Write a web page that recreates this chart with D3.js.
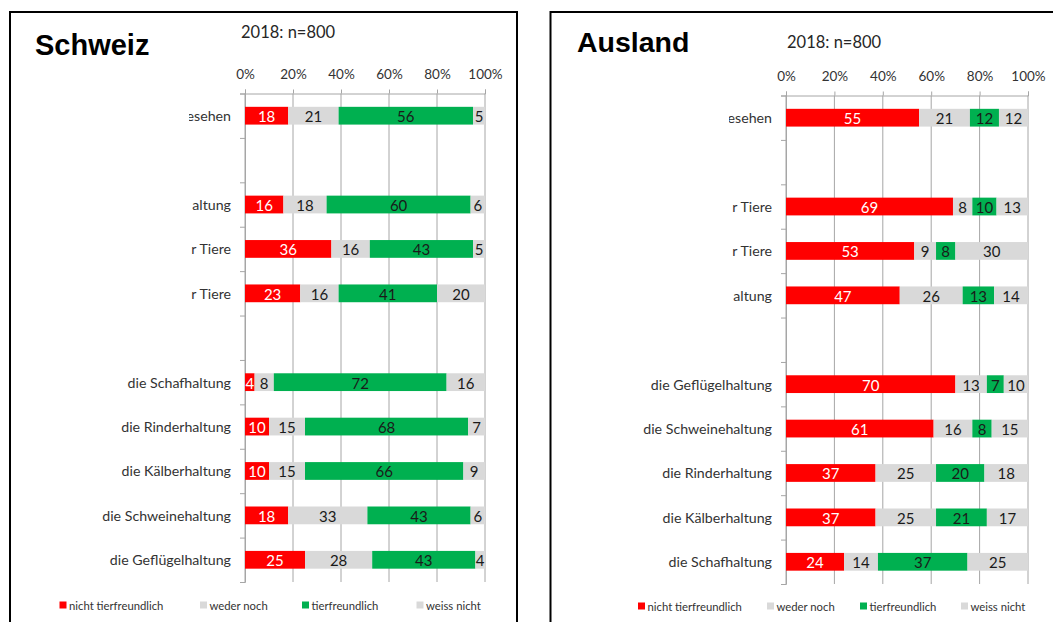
<!DOCTYPE html>
<html>
<head>
<meta charset="utf-8">
<script src="https://cdn.jsdelivr.net/npm/d3@7"></script>
<style>
  body { margin: 0; background: #fff; }
  svg { display: block; }
</style>
</head>
<body>
<svg id="chart" width="1053" height="622"></svg>
<script>
// legend / series
const seriesNames = ['nicht tierfreundlich', 'weder noch', 'tierfreundlich', 'weiss nicht'];
const tickValues = [0, 20, 40, 60, 80, 100];
const sampleText = '2018: n=800';

// Schweiz
const chTitle = 'Schweiz';
const chCats = ['esehen', '', 'altung', 'r Tiere', 'r Tiere', '',
  'die Schafhaltung', 'die Rinderhaltung', 'die Kälberhaltung', 'die Schweinehaltung', 'die Geflügelhaltung'];
const chNicht = [18, null, 16, 36, 23, null, 4, 10, 10, 18, 25];
const chWeder = [21, null, 18, 16, 16, null, 8, 15, 15, 33, 28];
const chTier  = [56, null, 60, 43, 41, null, 72, 68, 66, 43, 43];
const chWeiss = [5, null, 6, 5, 20, null, 16, 7, 9, 6, 4];

// Ausland
const auTitle = 'Ausland';
const auCats = ['esehen', '', 'r Tiere', 'r Tiere', 'altung', '',
  'die Geflügelhaltung', 'die Schweinehaltung', 'die Rinderhaltung', 'die Kälberhaltung', 'die Schafhaltung'];
const auNicht = [55, null, 69, 53, 47, null, 70, 61, 37, 37, 24];
const auWeder = [21, null, 8, 9, 26, null, 13, 16, 25, 25, 14];
const auTier  = [12, null, 10, 8, 13, null, 7, 8, 20, 21, 37];
const auWeiss = [12, null, 13, 30, 14, null, 10, 15, 18, 17, 25];

const colors = ['#FF0000', '#D9D9D9', '#00B050', '#D9D9D9'];
const labelColors = ['#ffffff', '#1a1a1a', '#1a1a1a', '#1a1a1a'];
const FONT = 'Lato, Carlito, Calibri, sans-serif';

const svg = d3.select('#chart');

class Panel {
  constructor(opts) {
    this.o = opts;
    this.g = svg.append('g');
    this.x = d3.scaleLinear().domain([0, 100]).range([opts.x0, opts.x1]);
    this.idx = d3.range(opts.cats.length);
    this.y = d3.scaleBand().domain(this.idx).range([opts.top, opts.bottom])
        .paddingInner(0.6).paddingOuter(0.3);
    this.yEdge = d3.scaleLinear().domain([0, opts.cats.length]).range([opts.top, opts.bottom]);
  }

  draw() {
    this.drawFrame();
    this.drawTitle();
    this.drawGrid();
    this.drawAxes();
    this.drawBars();
    this.drawLabels();
    this.drawLegend();
  }

  drawFrame() {
    var o = this.o;
    this.g.append('rect')
        .attr('x', o.frameX).attr('y', 12)
        .attr('width', o.frameW).attr('height', 700)
        .attr('fill', 'none')
        .attr('stroke', '#000')
        .attr('stroke-width', 2);
  }

  drawTitle() {
    var o = this.o;
    this.g.append('text')
        .attr('x', o.titleX).attr('y', o.titleY)
        .attr('font-family', 'Liberation Sans, Arial, sans-serif')
        .attr('font-weight', 'bold')
        .attr('font-size', o.titleSize)
        .attr('fill', '#000')
        .text(o.title);
    this.g.append('text')
        .attr('x', o.subX).attr('y', o.subY)
        .attr('font-family', FONT)
        .attr('font-size', 16.5)
        .attr('fill', '#262626')
        .text(sampleText);
  }

  drawGrid() {
    var o = this.o;
    this.g.append('g')
        .selectAll('line')
        .data(tickValues)
        .join('line')
        .attr('x1', d => this.x(d)).attr('x2', d => this.x(d))
        .attr('y1', o.top).attr('y2', o.bottom)
        .attr('stroke', '#A6A6A6')
        .attr('stroke-width', 1);
  }

  drawAxes() {
    var o = this.o;
    var top = this.g.append('g')
        .attr('transform', 'translate(0,' + o.top + ')')
        .call(d3.axisTop(this.x).tickValues(tickValues)
            .tickFormat(d => d + '%').tickSize(4).tickPadding(11));
    top.selectAll('path, line').attr('stroke', '#A6A6A6');
    top.selectAll('text')
        .attr('font-family', FONT)
        .attr('font-size', 13.5)
        .attr('fill', '#333');

    var left = this.g.append('g')
        .attr('transform', 'translate(' + o.x0 + ',0)')
        .call(d3.axisLeft(this.yEdge).tickValues(d3.range(o.cats.length + 1))
            .tickFormat('').tickSize(5));
    left.selectAll('path, line').attr('stroke', '#A6A6A6');
  }

  rows() {
    var o = this.o;
    return this.idx.filter(i => o.cats[i] !== '').map(i => ({
      i: i, v0: o.nicht[i], v1: o.weder[i], v2: o.tier[i], v3: o.weiss[i]
    }));
  }

  drawBars() {
    var stack = d3.stack().keys(['v0', 'v1', 'v2', 'v3']);
    var layers = stack(this.rows());
    var layerG = this.g.append('g').selectAll('g')
        .data(layers)
        .join('g');

    layerG.selectAll('rect')
        .data((layer, k) => layer.map(d => ({k: k, d: d})))
        .join('rect')
        .attr('x', e => this.x(e.d[0]))
        .attr('y', e => this.y(e.d.data.i))
        .attr('width', e => this.x(e.d[1]) - this.x(e.d[0]))
        .attr('height', this.y.bandwidth())
        .attr('fill', e => colors[e.k]);

    layerG.selectAll('text')
        .data((layer, k) => layer.map(d => ({k: k, d: d})))
        .join('text')
        .attr('x', e => (this.x(e.d[0]) + this.x(e.d[1])) / 2)
        .attr('y', e => this.y(e.d.data.i) + this.y.bandwidth() / 2 + 0.5)
        .attr('text-anchor', 'middle')
        .attr('dominant-baseline', 'central')
        .attr('font-family', FONT)
        .attr('font-size', 15)
        .attr('fill', e => labelColors[e.k])
        .text(e => e.d[1] - e.d[0]);
  }

  drawLabels() {
    var o = this.o;
    var clipId = 'clip-' + o.title;
    // the upper labels are cut off on the left, the lower ones are not
    var cut = this.yEdge(6);
    var clip = this.g.append('clipPath').attr('id', clipId);
    clip.append('rect')
        .attr('x', o.clipX).attr('y', 0)
        .attr('width', o.x0 - o.clipX).attr('height', cut);
    clip.append('rect')
        .attr('x', o.frameX).attr('y', cut)
        .attr('width', o.x0 - o.frameX).attr('height', 622 - cut);

    this.g.append('g')
        .attr('clip-path', 'url(#' + clipId + ')')
        .selectAll('text')
        .data(this.idx.filter(i => o.cats[i] !== ''))
        .join('text')
        .attr('x', o.labelX)
        .attr('y', i => this.y(i) + this.y.bandwidth() / 2)
        .attr('text-anchor', 'end')
        .attr('dominant-baseline', 'central')
        .attr('font-family', FONT)
        .attr('font-size', 14.2)
        .attr('fill', '#333')
        .text(i => o.cats[i]);
  }

  drawLegend() {
    var o = this.o;
    var items = this.g.append('g').selectAll('g')
        .data(seriesNames)
        .join('g')
        .attr('transform', (d, k) => 'translate(' + o.legendX[k] + ',' + o.legendY + ')');
    items.append('rect')
        .attr('x', 0).attr('y', -3.5)
        .attr('width', 7).attr('height', 7)
        .attr('fill', (d, k) => colors[k]);
    items.append('text')
        .attr('x', 9.5).attr('y', 0)
        .attr('dominant-baseline', 'central')
        .attr('font-family', FONT)
        .attr('font-size', 11.3)
        .attr('fill', '#333')
        .text(d => d);
  }
}

new Panel({
  title: chTitle, cats: chCats, nicht: chNicht, weder: chWeder, tier: chTier, weiss: chWeiss,
  frameX: 10, frameW: 507, titleX: 35, titleY: 55, titleSize: 29,
  subX: 241, subY: 38,
  x0: 245, x1: 485, top: 93.5, bottom: 582,
  labelX: 231, clipX: 189,
  legendX: [59.5, 200, 302, 416.5], legendY: 605
}).draw();

new Panel({
  title: auTitle, cats: auCats, nicht: auNicht, weder: auWeder, tier: auTier, weiss: auWeiss,
  frameX: 550.5, frameW: 600, titleX: 577, titleY: 52, titleSize: 28.5,
  subX: 787, subY: 48,
  x0: 786, x1: 1028, top: 95.5, bottom: 584,
  labelX: 772, clipX: 729,
  legendX: [638, 767, 860, 961], legendY: 606
}).draw();
</script>
</body>
</html>
